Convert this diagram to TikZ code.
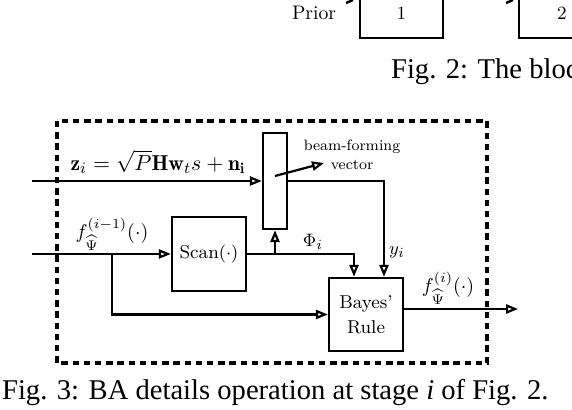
\documentclass[tikz,border=0pt]{standalone}
\usepackage{fontspec}
\newfontfamily\capfont{Liberation Serif}
\usetikzlibrary{arrows.meta,calc}
\begin{document}
\begin{tikzpicture}[x=0.5pt,y=-0.5pt, line width=1.1pt,
  box/.style={draw, line width=1.2pt, inner sep=0pt, font=\fontsize{9.3}{12.5}\selectfont},
  arr/.style={-{Triangle[open,length=6pt,width=4.6pt,line width=1.1pt]}},
  lbl/.style={inner sep=0pt, font=\fontsize{10}{12}\selectfont},
  small/.style={inner sep=0pt, font=\fontsize{7.5}{9}\selectfont},
  captext/.style={inner sep=0pt, anchor=west, font=\capfont\fontsize{14.3}{16}\selectfont},
  frame/.style={line width=1.7pt, dash pattern=on 3.2pt off 2.4pt}]
\useasboundingbox (0,0) rectangle (572,410);
\clip (0,0) rectangle (572,410);

% fragment of Fig. 2
\node[box, minimum width=41.5pt, minimum height=30pt] (b1) at (401.5,8) {};
\node[box, minimum width=41.5pt, minimum height=30pt] (b2) at (560.5,8) {};
\node[lbl, font=\fontsize{9.8}{12}\selectfont] (prior) at (314,13) {Prior};
\node[lbl, font=\fontsize{9.3}{12}\selectfont] (n1) at (401.5,13) {1};
\node[lbl, font=\fontsize{9.3}{12}\selectfont] (n2) at (562,13) {2};
\draw[line width=1.2pt] (346,3) -- (353,0);
\draw[line width=1.2pt] (506,3) -- (513,0);
\node[captext] (cap2) at (390,72) {Fig. 2: The bloc};

% Fig. 3
\draw[frame] (57,121) rectangle (487,363);
\node[box, minimum width=12pt, minimum height=48pt] (bf) at (275,181) {};
\node[box, minimum width=37pt, minimum height=37pt] (scan) at (209,254) {Scan$(\cdot)$};
\node[box, minimum width=37pt, minimum height=36.5pt, align=center] (bayes) at (366,314.5) {Bayes'\\Rule};

\coordinate (zin) at (32,181);
\coordinate (fin) at (32,254);
\coordinate (split) at (112,254);
\coordinate (fout) at (518,309);
\coordinate (bfv) at (324,163);

\draw[arr] (zin) -- (bf.west);
\draw[arr] (fin) -- (scan.west);
\draw[arr] (split) |- (bayes.west);
\draw[arr] (scan.east) -| ([xshift=-6pt]bayes.north);
\draw[arr] (scan.east -| bf.south) -- (bf.south);
\draw[arr] (bf.east) -| ([xshift=9pt]bayes.north);
\draw[arr] ([yshift=2.75pt]bayes.east) -- ([yshift=2.75pt]bayes.east -| fout);
\draw[arr] ([yshift=2.5pt]bf.center) -- (bfv);

\node[lbl, font=\fontsize{10.8}{12}\selectfont] (zl) at (158,162) {$\mathbf{z}_i = \sqrt{P}\mathbf{H}\mathbf{w}_t s + \mathbf{n}_\mathbf{i}$};
\node[lbl] (fl) at (112,234) {$f^{(i-1)}_{\widehat{\Psi}}(\cdot)$};
\node[lbl, font=\fontsize{9.3}{12}\selectfont] (phil) at (313,242) {$\Phi_i$};
\node[lbl, font=\fontsize{9.3}{12}\selectfont] (yl) at (397,252) {$y_i$};
\node[lbl] (fil) at (448,288) {$f^{(i)}_{\widehat{\Psi}}(\cdot)$};
\node[small] (bl1) at (352,147) {beam-forming};
\node[small] (bl2) at (352,165) {vector};

\node[captext] (cap3) at (1,393) {Fig. 3: BA details operation at stage \textit{i} of Fig. 2.};
\end{tikzpicture}
\end{document}
